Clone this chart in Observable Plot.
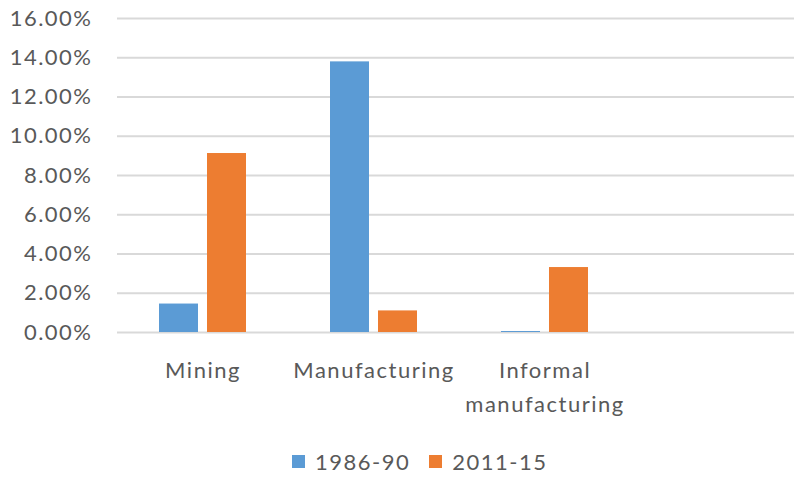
<!DOCTYPE html>
<html>
<head>
<meta charset="utf-8">
<script src="https://cdn.jsdelivr.net/npm/d3@7"></script>
<script src="https://cdn.jsdelivr.net/npm/@observablehq/plot@0.6"></script>
<style>
  html, body { margin: 0; padding: 0; background: #fff; overflow: hidden; }
  #chart { width: 794px; }
  #chart svg text { letter-spacing: 1.5px; }
  .legend { display: flex; gap: 19px; padding-left: 292px; margin-top: 18px; font-family: Lato, "Open Sans", sans-serif; font-size: 22px; letter-spacing: 1.5px; color: #595959; }
  .legend .item { display: flex; align-items: center; gap: 10px; }
  .legend .sw { width: 13px; height: 13px; display: inline-block; }
</style>
</head>
<body>
<div id="chart"></div>
<script>
const categories = ["Mining", "Manufacturing", "Informal manufacturing", ""];
const categoryLabels = ["Mining", "Manufacturing", "Informal\nmanufacturing", ""];
const series = ["1986-90", "2011-15"];
const values1986 = [0.0145, 0.1379, 0.0005, null];
const values2011 = [0.0912, 0.0110, 0.0331, null];
const colors = ["#5B9BD5", "#ED7D31"];
const yTicks = [0, 0.02, 0.04, 0.06, 0.08, 0.10, 0.12, 0.14, 0.16];

const data = [];
categories.forEach((c, i) => {
  data.push({category: c, series: series[0], value: values1986[i]});
  data.push({category: c, series: series[1], value: values2011[i]});
});

const labelOf = new Map(categories.map((c, i) => [c, categoryLabels[i]]));

const plot = Plot.plot({
  width: 794,
  height: 430,
  marginLeft: 116,
  marginRight: 0,
  marginTop: 18,
  marginBottom: 98,
  style: {fontFamily: "Lato, 'Open Sans', sans-serif", fontSize: "22px", color: "#595959", background: "#fff"},
  fx: {domain: categories, range: [116.5, 800.5], padding: 0, label: null},
  x: {domain: series, paddingInner: 0.194, paddingOuter: 0.842, axis: null},
  y: {domain: [0, 0.16], label: null},
  color: {domain: series, range: colors},
  marks: [
    Plot.ruleY(yTicks, {stroke: "#D9D9D9", strokeWidth: 2}),
    Plot.barY(data, {fx: "category", x: "series", y: "value", fill: "series"}),
    Plot.axisY({ticks: yTicks, tickFormat: d3.format(".2%"), tickSize: 0, tickPadding: 25, fontSize: 22, fill: "#595959"}),
    Plot.axisFx({anchor: "bottom", tickSize: 0, tickPadding: 21, fontSize: 22, lineHeight: 1.55, fill: "#595959", tickFormat: d => labelOf.get(d), label: null})
  ]
});
document.getElementById("chart").appendChild(plot);

const legend = d3.select("#chart").append("div").attr("class", "legend");
series.forEach((s, i) => {
  const item = legend.append("div").attr("class", "item");
  item.append("span").attr("class", "sw").style("background", colors[i]);
  item.append("span").text(s);
});
</script>
</body>
</html>
